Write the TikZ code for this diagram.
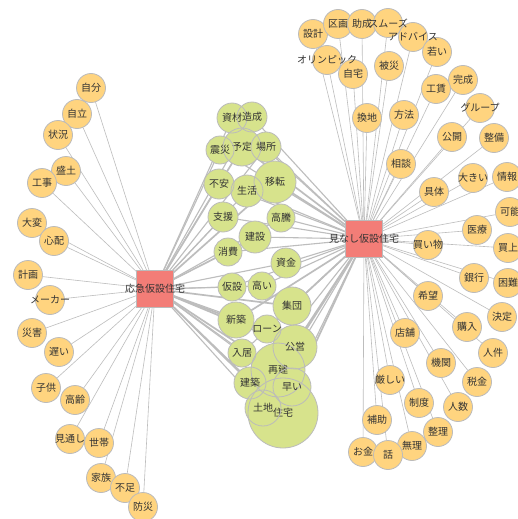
\documentclass[tikz,border=0pt]{standalone}
\usepackage{fontspec}
\newfontfamily\jpfont{Noto Sans CJK JP}
\usetikzlibrary{backgrounds}
\definecolor{orangefill}{HTML}{FFD47F}
\definecolor{greenfill}{HTML}{D7E38C}
\definecolor{redfill}{HTML}{F37D77}
\definecolor{ringgray}{HTML}{BBBBBB}
\definecolor{linegray}{HTML}{BDBDBD}
\definecolor{textgray}{HTML}{333333}
\newcommand\widetxt[1]{\makebox[0pt]{#1}}
\tikzset{
    mynodeo/.style = {circle, draw=ringgray, line width=0.8pt, fill=orangefill, minimum size=29pt, inner sep=0pt, text=textgray},
    mynoder/.style = {rectangle, draw=ringgray, line width=0.8pt, fill=redfill, minimum size=37pt, inner sep=0pt, text=textgray},
    mynodeg/.style = {circle, fill=greenfill, inner sep=0pt}, % fill only
    mynodegl/.style = {circle, draw=ringgray, line width=0.8pt, inner sep=0pt, text=textgray}, % ring and text on top
    mytext/.style = {inner sep=0pt, text=textgray},
    edgen/.style = {-, line width=0.6pt, linegray},
    edgew/.style = {-, line width=1.1pt, linegray},
    edgeww/.style = {-, line width=1.7pt, linegray}
}
% name/x/y/size/text
\newcommand\greenlist{jutaku/283/413/70/住宅, saiken/278/370/54/再建, kouei/295/347/44/公営,
  iten/275/182/42/移転, yotei/242/147/38/予定, shuudan/292/306/38/集団, hayai/292/387/38/早い,
  shinchiku/236/320/36/新築, tochi/263/408/36/土地, seikatsu/247/191/32/生活, kensetsu/255/237/32/建設,
  kenchiku/250/383/32/建築, shizai/232/118/30/資材, zousei/252/117/30/造成, basho/266/147/30/場所,
  fuan/219/184/30/不安, shien/223/217/30/支援, shikin/286/263/30/資金, shinsai/220/150/28/震災,
  koutou/281/218/28/高騰, shouhi/228/252/28/消費, kasetsu/232/287/28/仮設, takai/262/286/28/高い,
  loan/267/329/28/ローン, nyuukyo/242/353/28/入居}
\begin{document}
\begin{tikzpicture}[x=1pt, y=-1pt, font=\jpfont\fontsize{10}{12}\selectfont]
  \useasboundingbox (0,0) rectangle (517,519);

  % hubs
  \node[mynoder] (oukyu) at (155,289) {\widetxt{応急仮設住宅}};
  \node[mynoder] (minashi) at (364,239) {\widetxt{見なし仮設住宅}};

  % left words
  \node[mynodeo] (jibun) at (91,88) {自分};
  \node[mynodeo] (jiritsu) at (77,114) {自立};
  \node[mynodeo] (joukyou) at (58,135) {状況};
  \node[mynodeo] (morido) at (66,171) {盛土};
  \node[mynodeo] (kouji) at (42,183) {工事};
  \node[mynodeo] (taihen) at (32,223) {大変};
  \node[mynodeo] (shinpai) at (54,241) {心配};
  \node[mynodeo] (keikaku) at (28,275) {計画};
  \node[mynodeo] (maker) at (50,300) {\widetxt{メーカー}};
  \node[mynodeo] (saigai) at (32,333) {災害};
  \node[mynodeo] (osoi) at (59,352) {遅い};
  \node[mynodeo] (kodomo) at (46,388) {子供};
  \node[mynodeo] (kourei) at (75,400) {高齢};
  \node[mynodeo] (mitooshi) at (70,439) {\widetxt{見通し}};
  \node[mynodeo] (setai) at (99,443) {世帯};
  \node[mynodeo] (kazoku) at (101,478) {家族};
  \node[mynodeo] (fusoku) at (125,488) {不足};
  \node[mynodeo] (bousai) at (143,507) {防災};

  % right words
  \node[mynodeo] (sekkei) at (313,34) {設計};
  \node[mynodeo] (kukaku) at (338,24) {区画};
  \node[mynodeo] (josei) at (362,24) {助成};
  \node[mynodeo] (smooth) at (388,23) {};
  \node[mynodeo] (advice) at (413,37) {};
  \node[mynodeo] (wakai) at (437,52) {若い};
  \node[mynodeo] (olympic) at (327,60) {};
  \node[mynodeo] (jitaku) at (353,74) {自宅};
  \node[mynodeo] (hisai) at (389,66) {被災};
  \node[mynodeo] (kansei) at (463,80) {完成};
  \node[mynodeo] (kouchin) at (436,89) {工賃};
  \node[mynodeo] (group) at (480,108) {\widetxt{グループ}};
  \node[mynodeo] (kanchi) at (367,118) {換地};
  \node[mynodeo] (houhou) at (404,115) {方法};
  \node[mynodeo] (koukai) at (452,137) {公開};
  \node[mynodeo] (seibi) at (494,138) {整備};
  \node[mynodeo] (soudan) at (401,164) {相談};
  \node[mynodeo] (jouhou) at (507,177) {情報};
  \node[mynodeo] (ookii) at (473,178) {\widetxt{大きい}};
  \node[mynodeo] (gutai) at (434,192) {具体};
  \node[mynodeo] (kanou) at (510,212) {可能};
  \node[mynodeo] (iryou) at (477,230) {医療};
  \node[mynodeo] (kaimono) at (428,245) {\widetxt{買い物}};
  \node[mynodeo] (kaiage) at (508,248) {買上};
  \node[mynodeo] (ginkou) at (474,278) {銀行};
  \node[mynodeo] (konnan) at (508,283) {困難};
  \node[mynodeo] (kibou) at (428,296) {希望};
  \node[mynodeo] (kettei) at (502,317) {決定};
  \node[mynodeo] (kounyuu) at (467,327) {購入};
  \node[mynodeo] (tenpo) at (405,333) {店舗};
  \node[mynodeo] (ninken) at (493,353) {人件};
  \node[mynodeo] (kikan) at (441,363) {機関};
  \node[mynodeo] (zeikin) at (477,382) {税金};
  \node[mynodeo] (kibishii) at (390,380) {\widetxt{厳しい}};
  \node[mynodeo] (seido) at (419,403) {制度};
  \node[mynodeo] (ninzuu) at (458,407) {人数};
  \node[mynodeo] (seiri) at (438,432) {整理};
  \node[mynodeo] (hojo) at (377,420) {補助};
  \node[mynodeo] (muri) at (412,446) {無理};
  \node[mynodeo] (okane) at (363,452) {お金};
  \node[mynodeo] (hanashi) at (388,455) {話};

  % long words lie over their neighbours
  \node[mytext] (smooth-t) at (smooth) {スムーズ};
  \node[mytext] (advice-t) at (advice) {アドバイス};
  \node[mytext] (olympic-t) at (olympic) {オリンピック};

  % shared words: fills first, then rings and text
  \foreach \n/\x/\y/\d/\lab in \greenlist
    \node[mynodeg, minimum size=\d pt] (\n) at (\x,\y) {};
  \foreach \n/\x/\y/\d/\lab in \greenlist
    \node[mynodegl, minimum size=\d pt] (\n-t) at (\n) {\widetxt{\lab}};

  \begin{scope}[on background layer]
    \fill[white] (0,0) rectangle (517,519);
    \draw[edgen] (oukyu) edge (jibun) edge (jiritsu) edge (joukyou) edge (morido) edge (kouji)
      edge (taihen) edge (shinpai) edge (keikaku) edge (maker) edge (saigai) edge (osoi)
      edge (kodomo) edge (kourei) edge (mitooshi) edge (setai) edge (kazoku) edge (fusoku) edge (bousai);
    \draw[edgen] (minashi) edge (sekkei) edge (kukaku) edge (josei) edge (smooth) edge (advice)
      edge (wakai) edge (olympic) edge (jitaku) edge (hisai) edge (kansei) edge (kouchin)
      edge (group) edge (kanchi) edge (houhou) edge (koukai) edge (seibi) edge (soudan)
      edge (ookii) edge (jouhou) edge (gutai) edge (kanou) edge (iryou) edge (kaimono)
      edge (kaiage) edge (ginkou) edge (konnan) edge (kibou) edge (kettei) edge (kounyuu)
      edge (tenpo) edge (ninken) edge (kikan) edge (zeikin) edge (kibishii) edge (seido)
      edge (ninzuu) edge (seiri) edge (hojo) edge (muri) edge (okane) edge (hanashi);
    \foreach \n in {seikatsu, kensetsu, kenchiku, shizai, zousei, basho, fuan, shien, shikin,
        shinsai, koutou, shouhi, kasetsu, takai, loan, nyuukyo, tochi, hayai}
      \draw[edgew] (oukyu) -- (\n) (minashi) -- (\n);
    \foreach \n in {jutaku, saiken, kouei, iten, yotei, shuudan, shinchiku}
      \draw[edgeww] (oukyu) -- (\n) (minashi) -- (\n);
  \end{scope}
\end{tikzpicture}
\end{document}
